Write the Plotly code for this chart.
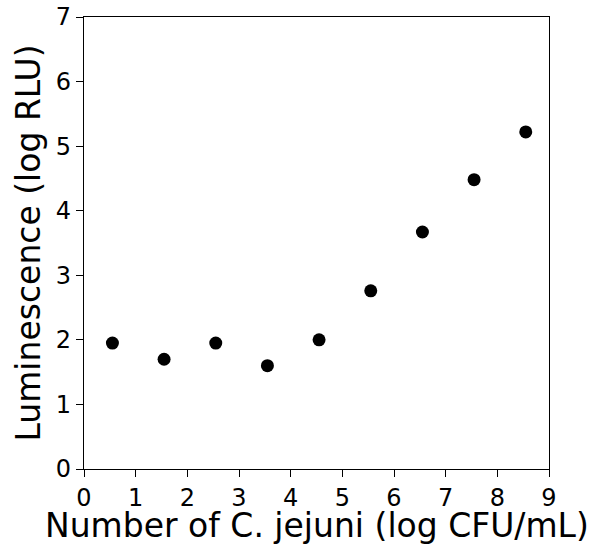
import plotly.graph_objects as go

log_cfu = [0.55, 1.55, 2.55, 3.55, 4.55, 5.55, 6.55, 7.55, 8.55]
log_rlu = [1.95, 1.70, 1.95, 1.60, 2.00, 2.76, 3.67, 4.48, 5.22]

x_title = "Number of C. jejuni (log CFU/mL)"
y_title = "Luminescence (log RLU)"

fig = go.Figure(go.Scatter(x=log_cfu, y=log_rlu, mode="markers",
                           marker=dict(color="black", size=13)))

font = "DejaVu Sans"
axis_common = dict(showline=True, linecolor="black", linewidth=1.3, mirror=True,
                   ticks="outside", ticklen=7, tickwidth=1.3, tickcolor="black",
                   showgrid=False, zeroline=False, automargin=False,
                   tickfont=dict(family=font, size=24, color="black"))

fig.update_layout(
    width=598, height=544,
    margin=dict(l=84, r=49, t=17, b=75),
    plot_bgcolor="white", paper_bgcolor="white",
    showlegend=False,
    xaxis=dict(range=[0, 9], dtick=1, **axis_common),
    yaxis=dict(range=[0, 7], dtick=1, **axis_common),
    annotations=[
        dict(text=x_title, xref="paper", yref="paper", x=0.5, y=0,
             xanchor="center", yanchor="top", yshift=-35, showarrow=False,
             font=dict(family=font, size=33, color="black")),
        dict(text=y_title, xref="paper", yref="paper", x=0, y=0.5,
             xanchor="right", yanchor="middle", xshift=-35, textangle=-90,
             showarrow=False, font=dict(family=font, size=33, color="black")),
    ],
)

fig.write_html("out.html")
